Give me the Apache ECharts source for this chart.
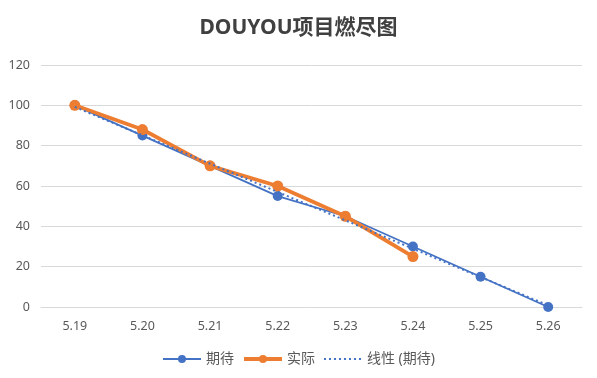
<!DOCTYPE html>
<html>
<head>
<meta charset="utf-8">
<script src="https://cdn.jsdelivr.net/npm/echarts@6/dist/echarts.min.js"></script>
<style>
  html, body { margin: 0; padding: 0; background: #fff; }
  #chart { width: 597px; height: 378px; }
</style>
</head>
<body>
<div id="chart"></div>
<script>
// 日期
var days = ['5.19', '5.20', '5.21', '5.22', '5.23', '5.24', '5.25', '5.26']
// 期待 / 实际 剩余工作量
var expected = [100, 85, 70, 55, 45, 30, 15, 0]
var actual = [100, 88, 70, 60, 45, 25]
// 线性趋势线 (期待) 两端读数
var trend = [99.2, null, null, null, null, null, null, 0.8]
var yTicks = { min: 0, max: 120, step: 20 }

var font = '"Noto Sans", "Noto Sans CJK SC", sans-serif'
var chart = echarts.init(document.getElementById('chart'))

chart.setOption({
  animation: false,
  textStyle: { fontFamily: font },
  title: {
    text: 'DOUYOU项目燃尽图',
    left: 'center',
    top: 13,
    textStyle: {
      fontSize: 21,
      fontWeight: 'bold',
      color: '#404040',
      fontFamily: font
    }
  },
  legend: {
    bottom: 7,
    left: 'center',
    itemWidth: 38,
    itemHeight: 10,
    itemGap: 8,
    textStyle: { color: '#595959', fontSize: 14, fontFamily: font },
    data: [
      { name: '期待', lineStyle: { width: 2 } },
      { name: '实际', lineStyle: { width: 4 } },
      { name: '线性 (期待)', itemStyle: { opacity: 0 }, lineStyle: { width: 2 } }
    ]
  },
  grid: {
    left: 41,
    right: 15,
    top: 65,
    bottom: 71
  },
  xAxis: {
    type: 'category',
    boundaryGap: true,
    data: days,
    axisTick: { show: false },
    axisLine: { lineStyle: { color: '#d9d9d9', width: 1 } },
    axisLabel: { color: '#595959', fontSize: 12.5, margin: 13 }
  },
  yAxis: {
    type: 'value',
    min: yTicks.min,
    max: yTicks.max,
    interval: yTicks.step,
    axisLine: { show: false },
    axisTick: { show: false },
    axisLabel: { color: '#595959', fontSize: 12.5, margin: 11 },
    splitLine: { lineStyle: { color: '#d9d9d9', width: 1 } }
  },
  series: [
    {
      name: '期待',
      type: 'line',
      data: expected,
      symbol: 'circle',
      symbolSize: 10,
      lineStyle: { color: '#4472c4', width: 1.8 },
      itemStyle: { color: '#4472c4' },
      z: 2
    },
    {
      name: '实际',
      type: 'line',
      data: actual,
      symbol: 'circle',
      symbolSize: 11,
      lineStyle: { color: '#ed7d31', width: 3.8 },
      itemStyle: { color: '#ed7d31' },
      z: 3
    },
    {
      name: '线性 (期待)',
      type: 'line',
      data: trend,
      connectNulls: true,
      symbol: 'none',
      lineStyle: { color: '#4472c4', width: 2, type: [2, 3] },
      itemStyle: { color: '#4472c4' },
      z: 4
    }
  ]
})
</script>
</body>
</html>
